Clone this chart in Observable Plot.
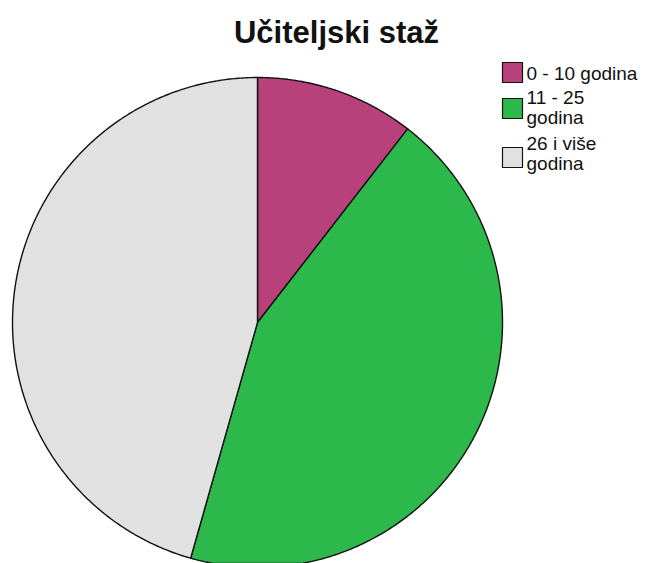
<!DOCTYPE html>
<html>
<head>
<meta charset="utf-8">
<script src="https://cdn.jsdelivr.net/npm/d3@7"></script>
<script src="https://cdn.jsdelivr.net/npm/@observablehq/plot@0.6"></script>
<style>
  html, body { margin: 0; padding: 0; background: #fff; }
  #chart svg { display: block; }
</style>
</head>
<body>
<div id="chart"></div>
<script>
// ---- data ----
const title = "Učiteljski staž";
const categories = ["0 - 10 godina", "11 - 25 godina", "26 i više godina"];
const legendLabels = ["0 - 10 godina", "11 - 25\ngodina", "26 i više\ngodina"];
const values = [10.5, 43.9, 45.6];
const colors = ["#B9417B", "#2DB84B", "#E1E1E1"];

// ---- layout ----
const W = 656, H = 563;
const cx = 257, cy = 322, R = 245;
const font = "Arial, 'Liberation Sans', Helvetica, sans-serif";

const pie = d3.pie().sort(null).value(d => d.value);
const data = categories.map((c, i) => ({category: c, value: values[i], color: colors[i]}));
const arcs = pie(data);

function arcPolygon(a) {
  const pts = [[cx, cy]];
  const n = Math.max(2, Math.ceil((a.endAngle - a.startAngle) / (Math.PI / 360)));
  for (let k = 0; k <= n; k++) {
    const t = a.startAngle + (a.endAngle - a.startAngle) * k / n;
    pts.push([cx + R * Math.sin(t), cy - R * Math.cos(t)]);
  }
  pts.push([cx, cy]);
  return {type: "Feature", properties: {category: a.data.category, color: a.data.color},
          geometry: {type: "Polygon", coordinates: [pts]}};
}
const slices = arcs.map(arcPolygon);

const swX = 502, swS = 20;
const swY = [62, 98, 147];
const textBase = [79, 123, 169];
const swatches = categories.map((c, i) => ({type: "Feature", properties: {category: c, color: colors[i]},
  geometry: {type: "Polygon", coordinates: [[[swX, swY[i]], [swX + swS, swY[i]], [swX + swS, swY[i] + swS], [swX, swY[i] + swS], [swX, swY[i]]]]}}));
const legendText = legendLabels.map((l, i) => ({label: l, x: swX + swS + 4, y: textBase[i]}));

const chart = Plot.plot({
  width: W, height: H,
  margin: 0,
  style: {fontFamily: font, background: "#fff"},
  projection: {
    type: "identity",
    inset: 0,
    domain: {type: "Polygon", coordinates: [[[0, 0], [W, 0], [W, H], [0, H], [0, 0]]]}
  },
  marks: [
    Plot.geo(slices, {fill: d => d.properties.color, stroke: "#111", strokeWidth: 1.4, strokeLinejoin: "round"}),
    Plot.geo(swatches, {fill: d => d.properties.color, stroke: "#111", strokeWidth: 1.2}),
    Plot.text(legendText, {x: "x", y: "y", text: "label", textAnchor: "start", lineAnchor: "bottom",
      lineHeight: 1.02, fontSize: 19, fill: "#111"}),
    Plot.text([title], {x: () => 336, y: () => 42, text: d => d, lineAnchor: "bottom",
      fontSize: 31, fontWeight: "bold", fill: "#111"})
  ]
});
document.getElementById("chart").appendChild(chart);
</script>
</body>
</html>
